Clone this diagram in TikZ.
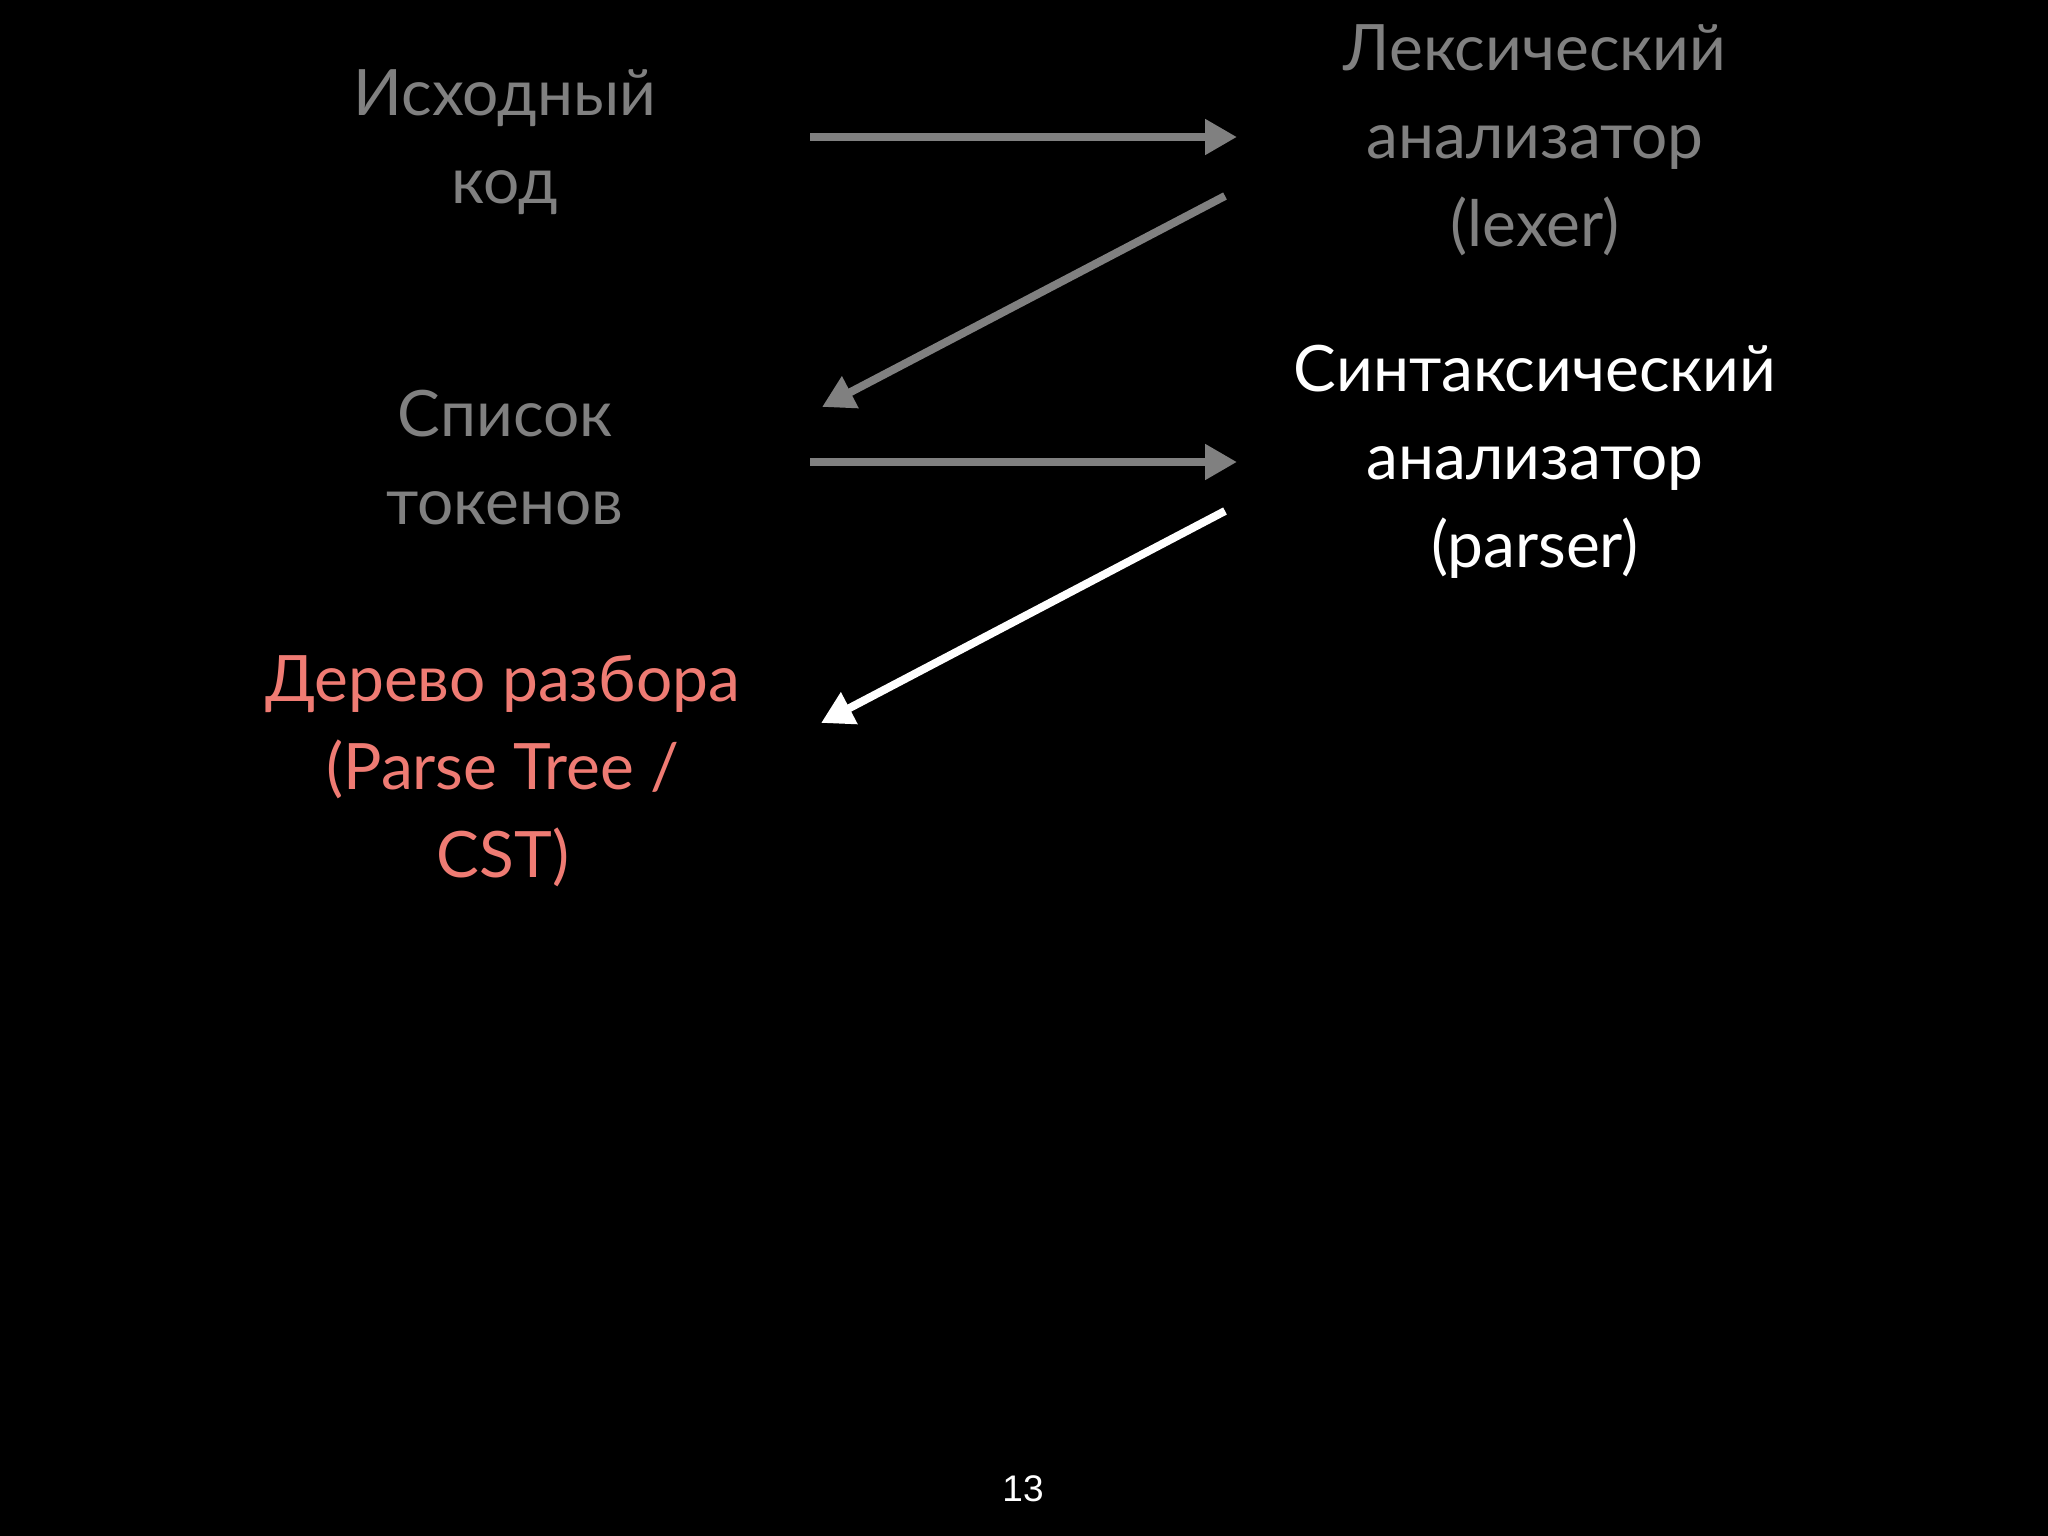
\documentclass[tikz,border=0pt]{standalone}
\usepackage{fontspec}
\setmainfont{Lato}
\newfontfamily\numfont{Liberation Sans}
\usetikzlibrary{arrows.meta}
\definecolor{dimgray}{HTML}{808080}
\definecolor{salmon}{HTML}{EF7B73}
\tikzset{
  label text/.style={align=center, inner sep=0pt, font=\fontsize{64}{88}\selectfont},
  flowarrow/.style={line width=8pt, -{Triangle[length=32pt,width=34pt]}},
}
\begin{document}
\begin{tikzpicture}[x=1pt,y=-1pt]
\fill[black] (0,0) rectangle (2048,1536);
\useasboundingbox (0,0) rectangle (2048,1536);

\node[label text, text=dimgray] (src) at (505,142) {Исходный\\код};
\node[label text, text=dimgray] (lex) at (1535,140) {Лексический\\анализатор\\(lexer)};
\node[label text, text=dimgray] (tok) at (505,458) {Список\\токенов};
\node[label text, text=white] (par) at (1535,462) {Синтаксический\\анализатор\\(parser)};
\node[label text, text=salmon] (cst) at (503,771) {Дерево разбора\\(Parse Tree /\\CST)};
\node[font=\numfont\fontsize{37}{44}\selectfont, text=white, inner sep=0pt] (num) at (1023,1489) {13};

\coordinate (a1s) at (810,137);
\coordinate (a1e) at (1237,137);
\coordinate (a2s) at (1225,196);
\coordinate (a2e) at (822,407);
\coordinate (a3s) at (810,462);
\coordinate (a3e) at (1237,462);
\coordinate (a4s) at (1225,511);
\coordinate (a4e) at (821,723);

\draw[flowarrow, draw=dimgray, fill=dimgray] (a1s) -- (a1e);
\draw[flowarrow, draw=dimgray, fill=dimgray] (a2s) -- (a2e);
\draw[flowarrow, draw=dimgray, fill=dimgray] (a3s) -- (a3e);
\draw[flowarrow, draw=white, fill=white] (a4s) -- (a4e);
\end{tikzpicture}
\end{document}
